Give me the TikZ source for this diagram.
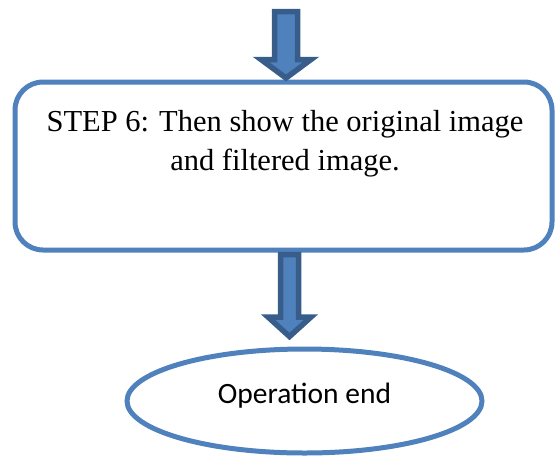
\documentclass[tikz,border=0pt]{standalone}
\usepackage{fontspec}
\setmainfont{Liberation Serif}
\newfontfamily\calib{Carlito}
\usetikzlibrary{calc,shapes.geometric}
\definecolor{acc}{HTML}{4F81BD}
\definecolor{accdark}{HTML}{385D8A}
\newcommand\blockarrow[5]{%
  \draw[barrow] ($(#1)+(-#3,0)$) -- ($(#2)+(-#3,-#5)$) -- ($(#2)+(-#4,-#5)$) -- (#2)
    -- ($(#2)+(#4,-#5)$) -- ($(#2)+(#3,-#5)$) -- ($(#1)+(#3,0)$) -- cycle;}
\begin{document}
\begin{tikzpicture}[x=1pt,y=-1pt,
  boxstyle/.style={draw=acc,line width=5pt,rounded corners=28pt,fill=white,
    minimum width=537pt,minimum height=168pt,inner sep=0pt},
  endstyle/.style={ellipse,draw=acc,line width=5pt,fill=white,
    minimum width=355pt,minimum height=104pt,inner sep=0pt,
    text height=18pt,text depth=14pt,font=\calib\fontsize{29.5}{34}\selectfont},
  txt/.style={align=center,font=\fontsize{30.5}{39}\selectfont,inner sep=0pt},
  barrow/.style={fill=acc,draw=accdark,line width=5.5pt,line join=miter}]
\useasboundingbox (0,0) rectangle (557,456);
\node[boxstyle] (box) at (283.5,166) {};
\node[txt,anchor=base] (t) at (285,170) {STEP 6: Then show the original image\\and filtered image.};
\node[endstyle] (end) at (304.5,401) {Operation end};
\coordinate (a1top) at (286,11.5);
\coordinate (a1tip) at (286,78);
\blockarrow{a1top}{a1tip}{11.5}{25}{18.5}
\coordinate (a2top) at ($(box.south)+(6,2)$);
\coordinate (a2tip) at ($(end.north)+(-15,-10)$);
\blockarrow{a2top}{a2tip}{9}{21.5}{19.5}
\end{tikzpicture}
\end{document}
